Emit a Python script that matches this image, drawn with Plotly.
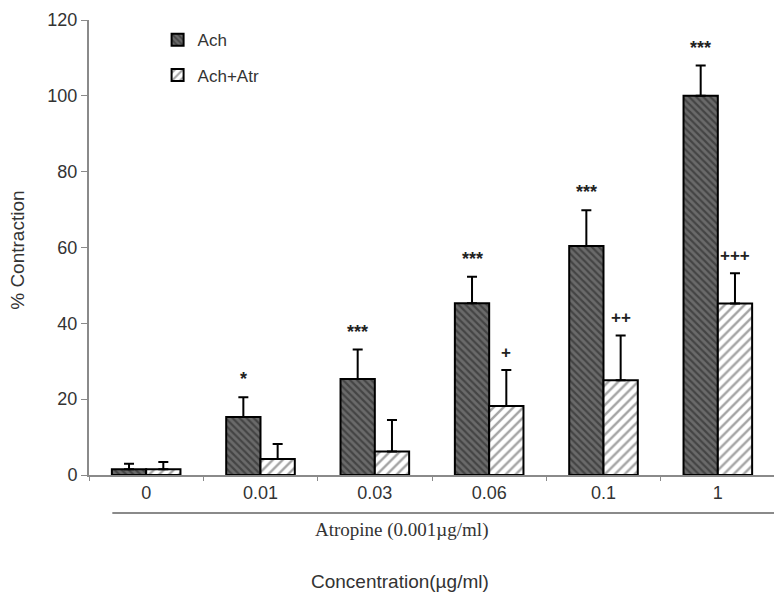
import plotly.graph_objects as go

# data
concentrations = ["0", "0.01", "0.03", "0.06", "0.1", "1"]
ach_mean = [1.5, 15.3, 25.3, 45.3, 60.4, 100.0]
ach_err = [1.5, 5.2, 7.8, 7.0, 9.4, 8.0]
atr_mean = [1.5, 4.2, 6.2, 18.2, 25.0, 45.2]
atr_err = [1.9, 4.0, 8.3, 9.5, 11.8, 8.0]
ach_sig = ["", "*", "***", "***", "***", "***"]
atr_sig = ["", "", "", "+", "++", "+++"]

tick_font = dict(family="Liberation Sans, Arial", size=18, color="#333333")

fig = go.Figure()

fig.add_trace(go.Bar(
    x=concentrations,
    y=ach_mean,
    name="Ach",
    legendgroup="a",
    marker=dict(
        color="#5a5a5a",
        line=dict(color="black", width=2),
        pattern=dict(shape="\\", fgcolor="#1e1e1e", bgcolor="#6a6a6a", size=5, solidity=0.45),
    ),
    error_y=dict(type="data", symmetric=False, array=ach_err, arrayminus=[0] * 6,
                 color="black", thickness=2, width=5),
))

fig.add_trace(go.Bar(
    x=concentrations,
    y=atr_mean,
    name="Ach+Atr",
    legendgroup="b",
    marker=dict(
        color="white",
        line=dict(color="black", width=2),
        pattern=dict(shape="/", fgcolor="#4a4a4a", bgcolor="white", size=7, solidity=0.35),
    ),
    error_y=dict(type="data", symmetric=False, array=atr_err, arrayminus=[0] * 6,
                 color="black", thickness=2, width=5),
))

# significance marks above the error bars (x given as category index)
annotations = []
for i in range(len(concentrations)):
    if ach_sig[i]:
        annotations.append(dict(x=i, y=ach_mean[i] + ach_err[i], xref="x", yref="y",
                                text="<b>" + ach_sig[i] + "</b>", showarrow=False, xshift=-17,
                                yanchor="bottom", yshift=6,
                                font=dict(family="Liberation Sans, Arial", size=18, color="#222222")))
    if atr_sig[i]:
        annotations.append(dict(x=i, y=atr_mean[i] + atr_err[i], xref="x", yref="y",
                                text="<b>" + atr_sig[i] + "</b>", showarrow=False, xshift=17,
                                yanchor="bottom", yshift=6,
                                font=dict(family="Liberation Sans, Arial", size=17, color="#222222")))

annotations += [
    dict(x=0.456, y=-0.121, xref="paper", yref="paper", xanchor="center", yanchor="middle",
         text="Atropine (0.001µg/ml)", showarrow=False,
         font=dict(family="Liberation Serif, Times New Roman", size=19, color="#333333")),
    dict(x=0.453, y=-0.233, xref="paper", yref="paper", xanchor="center", yanchor="middle",
         text="Concentration(µg/ml)", showarrow=False,
         font=dict(family="Liberation Sans, Arial", size=19, color="#333333")),
    dict(x=-0.1035, y=0.495, xref="paper", yref="paper", xanchor="center", yanchor="middle",
         text="% Contraction", textangle=-90, showarrow=False,
         font=dict(family="Liberation Sans, Arial", size=19, color="#333333")),
]

fig.update_layout(
    width=782,
    height=598,
    margin=dict(l=81, r=15, t=12, b=131),
    plot_bgcolor="white",
    paper_bgcolor="white",
    barmode="group",
    bargap=0.4,
    bargroupgap=0,
    showlegend=True,
    legend=dict(x=0.1, y=0.995, xanchor="left", yanchor="top", bgcolor="rgba(0,0,0,0)",
                font=dict(family="Liberation Sans, Arial", size=17, color="#333333"),
                tracegroupgap=10, itemwidth=30),
    annotations=annotations,
    shapes=[dict(type="line", xref="paper", yref="paper", x0=0.034, x1=1.0, y0=-0.0835, y1=-0.0835,
                 line=dict(color="#8a8a8a", width=2))],
    xaxis=dict(
        type="category",
        range=[-0.5, 5.5],
        automargin=False,
        showline=True, linecolor="#8a8a8a", linewidth=2,
        ticks="outside", tickson="boundaries", ticklen=4, tickcolor="#8a8a8a",
        showgrid=False, tickfont=tick_font,
    ),
    yaxis=dict(
        range=[0, 120],
        dtick=20,
        automargin=False,
        showline=True, linecolor="#8a8a8a", linewidth=2,
        ticks="outside", ticklen=6, tickcolor="#8a8a8a",
        showgrid=False, zeroline=False, tickfont=tick_font,
    ),
)

fig.write_html("out.html")
